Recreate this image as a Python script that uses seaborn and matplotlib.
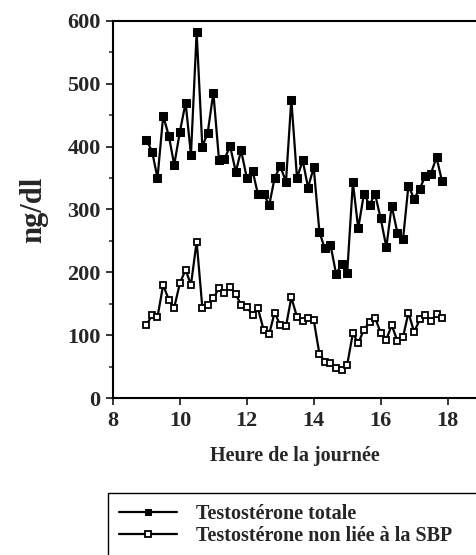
import seaborn as sns
import numpy as np
import pandas as pd
import matplotlib.pyplot as plt
from matplotlib.ticker import MultipleLocator

# heure de prélèvement (toutes les 10 min, 9h00 -> 17h50)
heures = [9.00, 9.17, 9.33, 9.50, 9.67, 9.83, 10.00, 10.17, 10.33, 10.50,
          10.67, 10.83, 11.00, 11.17, 11.33, 11.50, 11.67, 11.83, 12.00, 12.17,
          12.33, 12.50, 12.67, 12.83, 13.00, 13.17, 13.33, 13.50, 13.67, 13.83,
          14.00, 14.17, 14.33, 14.50, 14.67, 14.83, 15.00, 15.17, 15.33, 15.50,
          15.67, 15.83, 16.00, 16.17, 16.33, 16.50, 16.67, 16.83, 17.00, 17.17,
          17.33, 17.50, 17.67, 17.83]

testo_totale = [411, 392, 350, 449, 417, 371, 424, 470, 387, 582,
                400, 422, 486, 378, 380, 401, 360, 394, 350, 362,
                325, 325, 307, 350, 369, 344, 475, 350, 378, 335,
                367, 264, 238, 244, 197, 213, 199, 343, 270, 325,
                307, 325, 286, 240, 306, 263, 253, 338, 317, 333,
                353, 357, 383, 346]

testo_libre = [116, 132, 129, 180, 156, 144, 183, 204, 180, 249,
               144, 148, 159, 175, 167, 177, 165, 148, 145, 132,
               143, 109, 102, 136, 116, 114, 160, 129, 122, 128,
               124, 70, 58, 55, 47, 45, 53, 103, 87, 109,
               121, 128, 104, 93, 116, 91, 97, 136, 105, 125,
               132, 123, 133, 128]

labels = ["Testostérone totale", "Testostérone non liée à la SBP"]

sns.set_style("ticks")
plt.rcParams['font.family'] = ['Liberation Serif', 'DejaVu Serif']
plt.rcParams['font.weight'] = 'bold'

fig = plt.figure(figsize=(4.76, 5.55), dpi=100)
ax = fig.add_axes([113 / 476, 1 - 398 / 555, 1 - 113 / 476, (398 - 21) / 555])

sns.lineplot(x=heures, y=testo_totale, ax=ax, color="black", lw=1.6,
             marker="s", markersize=5.2, markerfacecolor="black",
             markeredgecolor="black", label=labels[0])
sns.lineplot(x=heures, y=testo_libre, ax=ax, color="black", lw=1.6,
             marker="s", markersize=4.8, markerfacecolor="white",
             markeredgecolor="black", markeredgewidth=1.3, label=labels[1])

ax.set_xlim(8, 18.85)
ax.set_ylim(0, 600)
ax.set_xticks([8, 10, 12, 14, 16, 18])
ax.yaxis.set_major_locator(MultipleLocator(100))
ax.yaxis.set_minor_locator(MultipleLocator(50))
ax.tick_params(axis="both", which="major", labelsize=16, length=5, width=1.3, pad=4)
ax.tick_params(axis="y", which="minor", length=3, width=1.1)
for lab in ax.get_xticklabels() + ax.get_yticklabels():
    lab.set_fontweight("bold")

for side in ["left", "bottom", "top"]:
    ax.spines[side].set_linewidth(1.5)
    ax.spines[side].set_color("black")
ax.spines["right"].set_visible(False)

ax.set_xlabel("Heure de la journée", fontsize=14.5, fontweight="bold", labelpad=11)
ax.set_ylabel("ng/dl", fontsize=22, fontweight="bold", labelpad=14)

handles, lbls = ax.get_legend_handles_labels()
ax.get_legend().remove()
leg = fig.legend(handles, lbls, loc="upper left",
                 bbox_to_anchor=(108 / 476, 1 - 493 / 555, 0.85, 0.0),
                 mode="expand", fontsize=14.5, handlelength=2.9, handletextpad=0.9,
                 borderpad=0.55, borderaxespad=0.0, labelspacing=0.08,
                 fancybox=False, framealpha=1, edgecolor="black", markerscale=0.8)
leg.get_frame().set_linewidth(1.0)
for t in leg.get_texts():
    t.set_fontweight("bold")

fig.savefig("out.png", dpi=100)
